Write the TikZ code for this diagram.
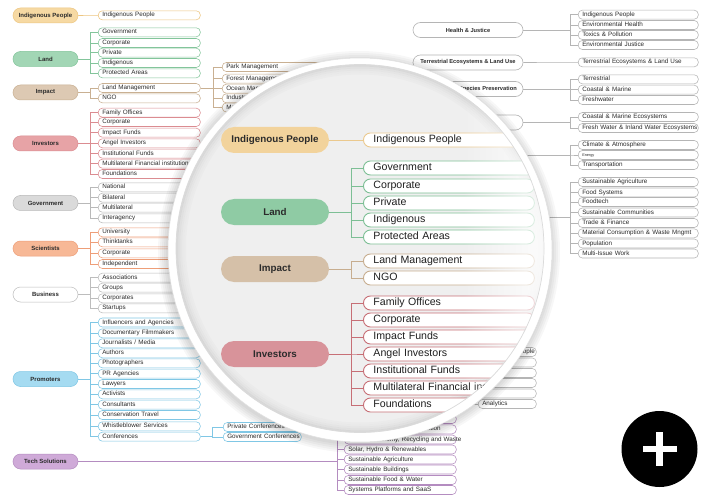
\documentclass[tikz,border=0pt]{standalone}
\usepackage{fontspec}
\setmainfont{Liberation Sans}
\usetikzlibrary{fadings}
\newcommand\fsz[1]{\fontsize{#1}{#1}\selectfont}
\definecolor{ipF}{HTML}{F6D9A3}\definecolor{ipL}{HTML}{EDC681}
\definecolor{landF}{HTML}{A2D6B5}\definecolor{landL}{HTML}{83C59B}
\definecolor{impF}{HTML}{DDC9B3}\definecolor{impL}{HTML}{C9B092}
\definecolor{invF}{HTML}{E7A3A6}\definecolor{invL}{HTML}{DB8C91}
\definecolor{govF}{HTML}{DADADA}\definecolor{govL}{HTML}{B9B9B9}
\definecolor{sciF}{HTML}{F7B896}\definecolor{sciL}{HTML}{EE9E78}
\definecolor{busF}{HTML}{FFFFFF}\definecolor{busL}{HTML}{BDBDBD}
\definecolor{proF}{HTML}{A5DBF1}\definecolor{proL}{HTML}{80C7E5}
\definecolor{techF}{HTML}{CFAAD8}\definecolor{techL}{HTML}{B48CC0}
\definecolor{grayL}{HTML}{B5B5B5}
\definecolor{txt}{HTML}{2B2B2B}
\definecolor{lensbg}{HTML}{EFEFEF}
\definecolor{LipF}{HTML}{F2D39C}\definecolor{LipL}{HTML}{EBC98E}
\definecolor{LlandF}{HTML}{8FCBA4}\definecolor{LlandL}{HTML}{7DBF95}
\definecolor{LimpF}{HTML}{D5C0A8}\definecolor{LimpL}{HTML}{C7AD8F}
\definecolor{LinvF}{HTML}{D8939A}\definecolor{LinvL}{HTML}{C76F76}
\tikzfading[name=glarefade, left color=transparent!100, right color=transparent!0]
\tikzset{
  kid/.style={draw=#1L, fill=white, line width=0.55pt, rounded corners=4pt, anchor=west,
    inner xsep=4pt, inner ysep=0pt, minimum height=9pt, text height=4.6pt, text depth=1.3pt,
    align=left, font=\fsz{6.3}, text=txt},
  lpar/.style={fill=#1F, draw=#1L, line width=0.5pt, rounded corners=7.5pt, minimum width=65pt,
    minimum height=15pt, inner sep=0pt, font=\fsz{6}\bfseries, text=txt},
  rpar/.style={fill=white, draw=grayL, line width=0.6pt, rounded corners=7.5pt, minimum width=110pt,
    minimum height=15pt, inner sep=0pt, font=\fsz{5.7}\bfseries, text=txt},
  conn/.style={draw=#1L, line width=0.6pt},
  lpill/.style={fill=#1F, draw=none, rounded corners=13pt, minimum width=108pt, minimum height=26pt,
    inner sep=0pt, font=\fsz{9.8}\bfseries, text=txt},
  lkid/.style={draw=#1L, fill=white, line width=0.9pt, rounded corners=7pt, anchor=west,
    inner xsep=10pt, inner ysep=0pt, minimum height=14pt, text width=151pt, text height=7.6pt,
    text depth=2pt, align=left, font=\fsz{10.6}, text=black!88},
  lconn/.style={draw=#1L, line width=0.8pt},
}
\begin{document}
\begin{tikzpicture}[x=1pt,y=-1pt]
\fill[white] (0,0) rectangle (710,500);
\useasboundingbox (0,0) rectangle (710,500);

% ---------------- left column ----------------
\node[lpar=ip] (ip) at (45.5,15.5) {Indigenous People};
\node[kid=ip, text width=94pt] (ip1) at (98,15.3) {Indigenous People};
\draw[conn=ip] (ip.east) -- (ip1.west);

\node[lpar=land] (land) at (45.5,59) {Land};
\foreach \t/\y [count=\i] in {Government/32.3, Corporate/43, Private/52.7, Indigenous/63, Protected Areas/73.3}{
  \node[kid=land, text width=94pt] (land\i) at (98,\y) {\t};
  \draw[conn=land] (land.east) -- ++(12,0) |- (land\i.west);}

\node[lpar=imp] (imp) at (45.5,92.5) {Impact};
\foreach \t/\y [count=\i] in {Land Management/88, NGO/98.3}{
  \node[kid=imp, text width=94pt] (imp\i) at (98,\y) {\t};
  \draw[conn=imp] (imp.east) -- ++(12,0) |- (imp\i.west);}
\foreach \t/\y [count=\i] in {Park Management/67, Forest Management/78.7, Ocean Management/88.7, Industry/98.3, Marine/107.5}{
  \node[kid=imp, text width=92pt] (lm\i) at (222,\y) {\t};
  \draw[conn=imp] (imp1.east) -- ++(13,0) |- (lm\i.west);}

\node[lpar=inv] (inv) at (45.5,143.5) {Investors};
\foreach \t/\y [count=\i] in {Family Offices/112.7, Corporate/122, Impact Funds/132.7, Angel Investors/143.3,
   Institutional Funds/153.7, {\mbox{Multilateral Financial institutions}}/163.7, Foundations/174}{
  \node[kid=inv, text width=94pt] (inv\i) at (98,\y) {\t};
  \draw[conn=inv] (inv.east) -- ++(12,0) |- (inv\i.west);}

\node[lpar=gov] (gov) at (45.5,203) {Government};
\foreach \t/\y [count=\i] in {National/187.3, Bilateral/197.7, Multilateral/207.7, Interagency/218.3}{
  \node[kid=gov, text width=94pt] (gov\i) at (98,\y) {\t};
  \draw[conn=gov] (gov.east) -- ++(12,0) |- (gov\i.west);}

\node[lpar=sci] (sci) at (45.5,248.5) {Scientists};
\foreach \t/\y [count=\i] in {University/232.3, Thinktanks/242.3, Corporate/253.3, Independent/264}{
  \node[kid=sci, text width=94pt] (sci\i) at (98,\y) {\t};
  \draw[conn=sci] (sci.east) -- ++(12,0) |- (sci\i.west);}

\node[lpar=bus] (bus) at (45.5,294.5) {Business};
\foreach \t/\y [count=\i] in {Associations/277.7, Groups/287.7, Corporates/298.3, Startups/308.3}{
  \node[kid=bus, text width=94pt] (bus\i) at (98,\y) {\t};
  \draw[conn=bus] (bus.east) -- ++(12,0) |- (bus\i.west);}

\node[lpar=pro] (pro) at (45.5,379) {Promoters};
\foreach \t/\y [count=\i] in {Influencers and Agencies/322.5, Documentary Filmmakers/333.3, {Journalists / Media}/343.3,
   Authors/353.3, Photographers/363.3, PR Agencies/373.7, Lawyers/384, Activists/394.3, Consultants/404.7,
   Conservation Travel/415, Whistleblower Services/426.3, Conferences/436.7}{
  \node[kid=pro, text width=94pt] (pro\i) at (98,\y) {\t};
  \draw[conn=pro] (pro.east) -- ++(12,0) |- (pro\i.west);}
\foreach \t/\y [count=\i] in {{\mbox{Private Conferences}}/427, {\mbox{Government Conferences}}/437}{
  \node[kid=pro, text width=70pt] (cf\i) at (223,\y) {\t};
  \draw[conn=pro] (pro12.east) -- ++(12,0) |- (cf\i.west);}

\node[lpar=tech] (tech) at (45.5,461.5) {Tech Solutions};
\foreach \t/\y [count=\i] in {{}/419, {\mbox{Carbon Capture \& Sequestration}}/429.3,
   {\mbox{Circular Economy, Recycling and Waste}}/439.5, {Solar, Hydro \& Renewables}/449.5,
   Sustainable Agriculture/459.5, Sustainable Buildings/469.5, Sustainable Food \& Water/480,
   Systems Platforms and SaaS/490}{
  \node[kid=tech, text width=104pt] (tc\i) at (344,\y) {\t};
  \draw[conn=tech] (tech.east) -- ++(259,0) |- (tc\i.west);}

% ---------------- right side ----------------
\node[rpar] (hj) at (468,30) {Health \& Justice};
\foreach \t/\y [count=\i] in {Indigenous People/14.7, Environmental Health/25, Toxics \& Pollution/35, Environmental Justice/45}{
  \node[kid=gray, text width=112pt] (hj\i) at (578,\y) {\t};
  \draw[conn=gray] (hj.east) -- ++(47,0) |- (hj\i.west);}

\node[rpar] (te) at (468,62.5) {Terrestrial Ecosystems \& Land Use};
\node[kid=gray, text width=112pt] (te1) at (578,62.3) {Terrestrial Ecosystems \& Land Use};
\draw[conn=gray] (te.east) -- (te1.west);

\node[rpar] (sp) at (468,89) {Biodiversity \& Species Preservation};
\foreach \t/\y [count=\i] in {Terrestrial/79.3, Coastal \& Marine/89.7, Freshwater/100}{
  \node[kid=gray, text width=112pt] (sp\i) at (578,\y) {\t};
  \draw[conn=gray] (sp.east) -- ++(47,0) |- (sp\i.west);}

\node[rpar] (aq) at (468,122.5) {};
\foreach \t/\y [count=\i] in {Coastal \& Marine Ecosystems/117, {\mbox{Fresh Water \& Inland Water Ecosystems}}/128}{
  \node[kid=gray, text width=112pt] (aq\i) at (578,\y) {\t};
  \draw[conn=gray] (aq.east) -- ++(47,0) |- (aq\i.west);}

\node[rpar] (cl) at (468,155) {};
\node[kid=gray, text width=112pt] (cl1) at (578,145) {Climate \& Atmosphere};
\node[kid=gray, text width=112pt, font=\fsz{3.8}] (cl2) at (578,155) {Energy};
\node[kid=gray, text width=112pt] (cl3) at (578,165) {Transportation};
\foreach \i in {1,2,3}{\draw[conn=gray] (cl.east) -- ++(47,0) |- (cl\i.west);}

\node[rpar] (su) at (468,217.5) {};
\foreach \t/\y [count=\i] in {Sustainable Agriculture/182, Food Systems/192.5, Foodtech/202, Sustainable Communities/212.5,
   Trade \& Finance/223, {\mbox{Material Consumption \& Waste Mngmt}}/233.3, Population/243.5, Multi-Issue Work/253.5}{
  \node[kid=gray, text width=112pt] (su\i) at (578,\y) {\t};
  \draw[conn=gray] (su.east) -- ++(47,0) |- (su\i.west);}

\coordinate (an) at (440,378);
\foreach \t/\y [count=\i] in {{\mbox{Indigenous People}}/352, {}/362.5, {}/373, {}/383, {}/393.5, Analytics/404}{
  \node[kid=gray, text width=50pt] (an\i) at (478,\y) {\t};
  \draw[conn=gray] (an) -- ++(30,0) |- (an\i.west);}

% ---------------- magnifier lens ----------------
\foreach \r in {201,199,...,193}{\fill[black, opacity=0.03] (359,252) circle[radius=\r pt];}
\fill[white] (360,250) circle[radius=192pt];
\fill[lensbg] (360,248.5) circle[radius=184pt];
\begin{scope}
  \clip (360,248.5) circle[radius=184pt];
  \foreach \r/\o in {183/0.09,181/0.06,179/0.04,177/0.025,175/0.015}{
    \draw[black, opacity=\o, line width=2pt] (360,248.5) circle[radius=\r pt];}

  \node[lpill=Lip] (Lip) at (275,140) {Indigenous People};
  \node[lkid=Lip] (Lip1) at (363,140) {Indigenous People};
  \draw[lconn=Lip] (Lip.east) -- (Lip1.west);

  \node[lpill=Lland] (Lland) at (275,212) {Land};
  \foreach \t/\y [count=\i] in {Government/168, Corporate/186, Private/203, Indigenous/220, Protected Areas/237}{
    \node[lkid=Lland] (Lland\i) at (363,\y) {\t};
    \draw[lconn=Lland] (Lland.east) -- ++(22,0) |- (Lland\i.west);}

  \node[lpill=Limp] (Limp) at (275,269) {Impact};
  \foreach \t/\y [count=\i] in {Land Management/261, NGO/278}{
    \node[lkid=Limp] (Limp\i) at (363,\y) {\t};
    \draw[lconn=Limp] (Limp.east) -- ++(22,0) |- (Limp\i.west);}

  \node[lpill=Linv] (Linv) at (275,354) {Investors};
  \foreach \t/\y [count=\i] in {Family Offices/303, Corporate/320, Impact Funds/337, Angel Investors/354,
     Institutional Funds/371, {\mbox{Multilateral Financial institutions}}/388, Foundations/405}{
    \node[lkid=Linv] (Linv\i) at (363,\y) {\t};
    \draw[lconn=Linv] (Linv.east) -- ++(22,0) |- (Linv\i.west);}

  \fill[white, path fading=glarefade, opacity=0.9] (462,40) rectangle (548,460);
\end{scope}
\draw[black!14, line width=0.7pt] (360,248.5) circle[radius=184pt];
\draw[black!12, line width=0.5pt] (360,250) circle[radius=192pt];

% ---------------- plus button ----------------
\node[circle, fill=black, minimum size=76pt, inner sep=0pt] (plus) at (659.5,449) {};
\fill[white] (642.5,445.8) rectangle (676.5,452.2);
\fill[white] (656.3,432) rectangle (662.7,466);
\end{tikzpicture}
\end{document}
